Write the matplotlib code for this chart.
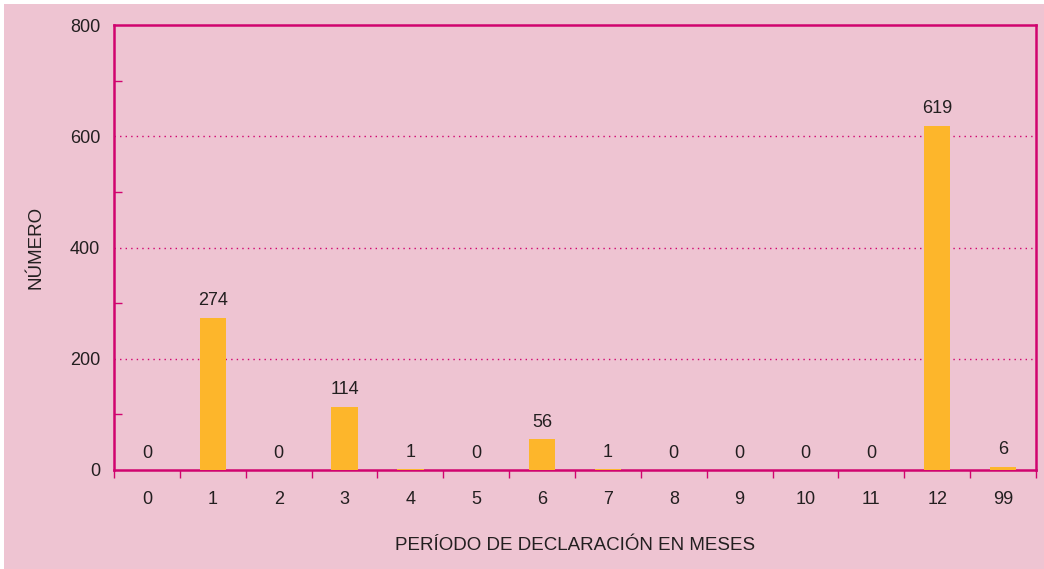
import matplotlib
matplotlib.use("Agg")
import matplotlib.pyplot as plt
from matplotlib.patches import Rectangle
from matplotlib.ticker import FixedLocator, MultipleLocator, NullFormatter

plt.rcParams["font.family"] = ["Liberation Sans", "DejaVu Sans"]

BG = "#eec4d2"
EDGE = "#d0046f"
BAR = "#fdb62b"
TEXT = "#231f20"

periods = ["0", "1", "2", "3", "4", "5", "6", "7", "8", "9", "10", "11", "12", "99"]
counts = [0, 274, 0, 114, 1, 0, 56, 1, 0, 0, 0, 0, 619, 6]

W, H = 1044, 569
fig = plt.figure(figsize=(W / 100, H / 100), dpi=100, facecolor="white")
# pink panel, thin white margin at top and left
fig.patches.append(Rectangle((4 / W, 0), 1 - 4 / W, 1 - 4 / H,
                             transform=fig.transFigure, facecolor=BG,
                             edgecolor="none", zorder=-10))

ax = fig.add_axes([114 / W, 1 - 470 / H, 922 / W, 445 / H])
ax.set_facecolor(BG)

x = list(range(len(periods)))
ax.bar(x, counts, width=0.4, color=BAR, zorder=3)
for xi, v in zip(x, counts):
    ax.annotate(str(v), (xi, v), xytext=(0, 6), textcoords="offset points",
                ha="center", va="bottom", fontsize=13, color=TEXT)

ax.set_xlim(-0.5, len(periods) - 0.5)
ax.set_ylim(0, 800)

for s in ax.spines.values():
    s.set_color(EDGE)
    s.set_linewidth(1.8)

# y axis: labels on majors, short inward minor ticks
ax.yaxis.set_major_locator(MultipleLocator(200))
ax.yaxis.set_minor_locator(FixedLocator([100, 300, 500, 700]))
ax.yaxis.set_minor_formatter(NullFormatter())
ax.tick_params(axis="y", which="major", length=0, pad=10, labelsize=13, labelcolor=TEXT)
ax.tick_params(axis="y", which="minor", direction="in", length=6, width=1, color=EDGE)
for y in (200, 400, 600):
    ax.axhline(y, color=EDGE, linestyle=(0, (1, 3)), linewidth=1, zorder=1)

# x axis: category labels, boundary ticks
ax.set_xticks(x)
ax.set_xticklabels(periods)
ax.tick_params(axis="x", which="major", length=0, pad=15, labelsize=13, labelcolor=TEXT)
ax.set_xticks([i - 0.5 for i in range(len(periods) + 1)], minor=True)
ax.tick_params(axis="x", which="minor", direction="out", length=6, width=1, color=EDGE)

ax.set_ylabel("NÚMERO", fontsize=13.5, color=TEXT, va="center")
ax.yaxis.set_label_coords((36 - 114) / 922, 0.5)
ax.set_xlabel("PERÍODO DE DECLARACIÓN EN MESES", fontsize=13.5, color=TEXT, va="center")
ax.xaxis.set_label_coords(0.5, (470 - 545) / 445)

fig.savefig("out.png", dpi=100, facecolor="white")
